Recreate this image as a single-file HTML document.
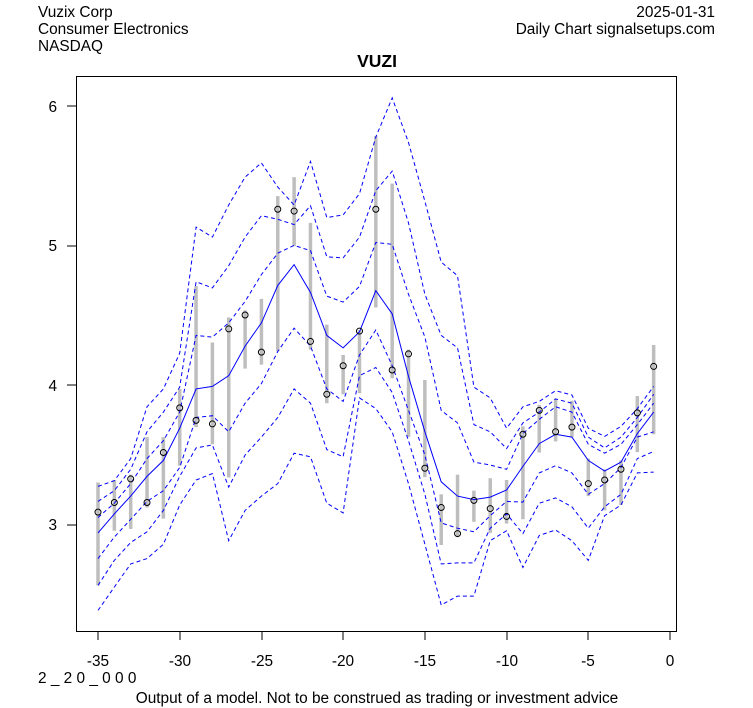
<!DOCTYPE html>
<html><head><meta charset="utf-8"><style>
html,body{margin:0;padding:0;background:#fff;}
body{width:753px;height:708px;overflow:hidden;font-family:"Liberation Sans",Arial,sans-serif;}
</style></head><body>
<svg id="s" width="753" height="708" xmlns="http://www.w3.org/2000/svg" style="position:absolute;left:0;top:0">
<g font-family="Liberation Sans, Arial, sans-serif" font-size="15.4" fill="#000">
<text x="38" y="17">Vuzix Corp</text>
<text x="38" y="34">Consumer Electronics</text>
<text x="38" y="51">NASDAQ</text>
<text x="715" y="17" text-anchor="end">2025-01-31</text>
<text x="715" y="34" text-anchor="end">Daily Chart signalsetups.com</text>
<text x="377" y="67" text-anchor="middle" font-weight="bold" font-size="17.5">VUZI</text>
<text x="57" y="112" text-anchor="end">6</text>
<text x="57" y="251" text-anchor="end">5</text>
<text x="57" y="391" text-anchor="end">4</text>
<text x="57" y="530" text-anchor="end">3</text>
<text x="98" y="666" text-anchor="middle">-35</text>
<text x="180" y="666" text-anchor="middle">-30</text>
<text x="262" y="666" text-anchor="middle">-25</text>
<text x="343" y="666" text-anchor="middle">-20</text>
<text x="425" y="666" text-anchor="middle">-15</text>
<text x="507" y="666" text-anchor="middle">-10</text>
<text x="588" y="666" text-anchor="middle">-5</text>
<text x="670" y="666" text-anchor="middle">0</text>
<text x="38" y="683">2 _ 2 0 _ 0 0 0</text>
<text x="377" y="703" text-anchor="middle">Output of a model. Not to be construed as trading or investment advice</text>
</g>
<rect x="76.5" y="76.5" width="600" height="555" fill="none" stroke="#000" stroke-width="1"/>
<g stroke="#000" stroke-width="1">
<line x1="67" y1="106" x2="76.5" y2="106"/><line x1="67" y1="246" x2="76.5" y2="246"/>
<line x1="67" y1="385" x2="76.5" y2="385"/><line x1="67" y1="525" x2="76.5" y2="525"/>
<line x1="98" y1="632" x2="98" y2="640"/><line x1="180" y1="632" x2="180" y2="640"/>
<line x1="262" y1="632" x2="262" y2="640"/><line x1="343" y1="632" x2="343" y2="640"/>
<line x1="425" y1="632" x2="425" y2="640"/><line x1="507" y1="632" x2="507" y2="640"/>
<line x1="588" y1="632" x2="588" y2="640"/><line x1="670" y1="632" x2="670" y2="640"/>
</g>
<g id="g"></g>
</svg>
<script>
var u3=[1138,1122,1060,915,865,765,412,440,350,272,232,300,350,228,385,378,318,160,50,175,340,510,548,860,890,975,915,900,870,882,975,998,970,920,858];
var u2=[1180,1150,1090,985,930,860,565,582,520,440,380,390,405,352,495,498,440,310,255,400,600,715,750,965,985,1032,960,930,893,905,1000,1030,1000,945,880];
var u1=[1225,1185,1130,1060,1010,930,715,720,680,620,545,485,463,478,605,622,578,455,460,600,720,925,960,1070,1078,1090,990,950,915,930,1020,1045,1020,965,905];
var c=[1268,1215,1165,1110,1065,975,865,858,828,745,680,575,517,595,715,750,705,590,655,830,985,1125,1165,1175,1168,1148,1082,1018,992,1000,1065,1095,1070,990,930];
var l1=[1340,1280,1230,1180,1150,1085,945,940,985,905,850,760,695,745,865,900,770,700,800,925,1050,1240,1255,1265,1220,1180,1182,1100,1080,1100,1160,1130,1085,1000,985];
var l2=[1415,1345,1295,1265,1205,1110,1030,1022,1140,1050,1000,945,865,905,1035,1055,828,805,875,1010,1160,1355,1352,1352,1255,1215,1270,1185,1170,1195,1255,1195,1160,1060,1040];
var l3=[1485,1420,1355,1340,1300,1190,1120,1102,1290,1205,1165,1130,1045,1055,1185,1212,890,920,985,1130,1300,1470,1445,1445,1290,1262,1365,1275,1260,1290,1345,1220,1190,1100,1098];
var cl=[1210,1183,1117,1183,1043,918,953,963,697,658,762,362,367,732,880,800,703,362,812,767,1087,1197,1270,1177,1200,1222,992,925,985,972,1130,1120,1090,932,802];
var bt=[1127,1120,1105,1000,1000,865,577,735,665,645,613,325,272,400,685,770,700,157,290,755,840,1160,1105,1150,1115,1120,970,910,892,898,1060,1090,1065,885,742];
var bb=[1415,1262,1257,1197,1228,1080,972,1020,1113,808,797,760,465,755,905,880,877,637,835,1000,1112,1302,1280,1237,1268,1242,1230,1043,1012,1000,1165,1205,1190,1042,992];
function X(i){return 98+i*16.343;}function Y(z){return 80+z/2.8;}
var h='';
for(var i=0;i<35;i++){h+='<line x1="'+X(i)+'" x2="'+X(i)+'" y1="'+Y(bt[i])+'" y2="'+Y(bb[i])+'" stroke="#bebebe" stroke-width="3.5"/>';}
function pl(a,d){var p=a.map(function(z,i){return X(i).toFixed(1)+','+Y(z).toFixed(1);}).join(' ');
return '<polyline points="'+p+'" fill="none" stroke="#0000ff" stroke-width="1"'+(d?' stroke-dasharray="4,3"':'')+'/>';}
[u3,u2,u1,l1,l2,l3].forEach(function(a){h+=pl(a,true);});
h+=pl(c,false);
for(var i=0;i<35;i++){h+='<circle cx="'+X(i)+'" cy="'+Y(cl[i])+'" r="3" fill="none" stroke="#000" stroke-width="1"/>';}
document.getElementById('g').innerHTML=h;
</script>
</body></html>
